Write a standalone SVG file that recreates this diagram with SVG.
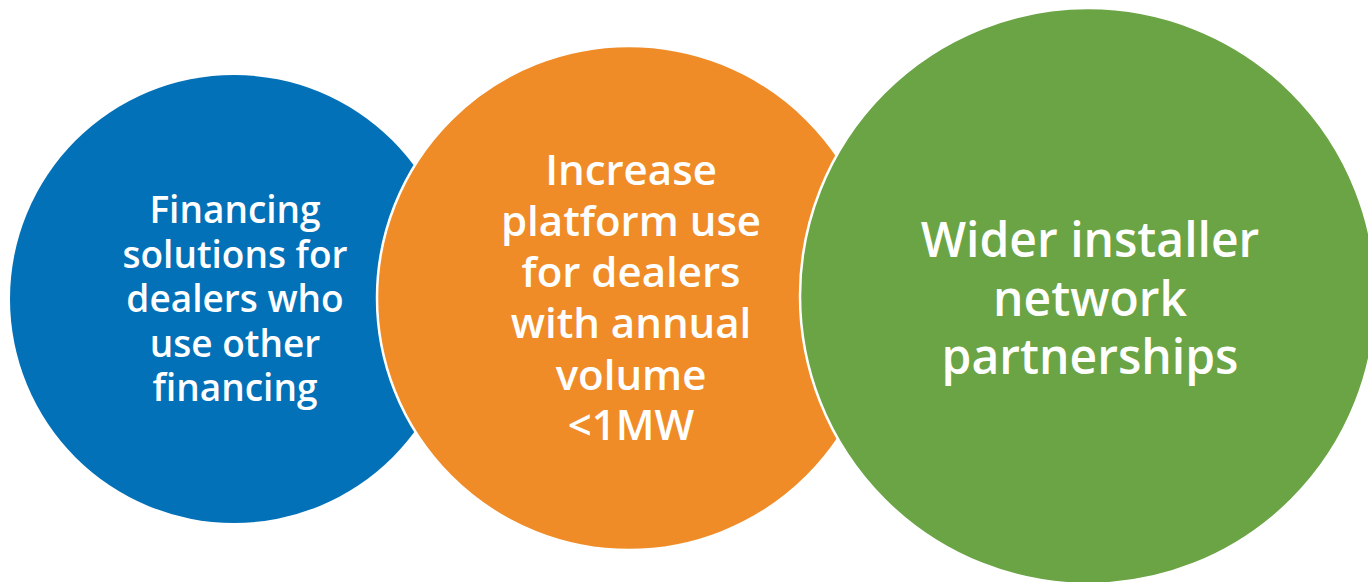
<svg xmlns="http://www.w3.org/2000/svg" width="1368" height="582" viewBox="0 0 1368 582">
<style>
.t{font-family:"Open Sans","Noto Sans","Liberation Sans",sans-serif;font-weight:600;fill:#FFFFFF;text-anchor:middle}
.c{stroke:#FFFFFF;stroke-width:2.5}
</style>
<rect width="1368" height="582" fill="#FFFFFF"/>
<g id="node-blue">
<circle cx="234" cy="299" r="224" fill="#0271B8"/>
<text class="t" font-size="37"><tspan x="235" y="223">Financing</tspan><tspan x="235" y="268">solutions for</tspan><tspan x="235" y="312">dealers who</tspan><tspan x="235" y="357">use other</tspan><tspan x="235" y="401">financing</tspan></text>
</g>
<g id="node-orange">
<circle class="c" cx="629" cy="298" r="252" fill="#EF8C27"/>
<text class="t" font-size="42"><tspan x="631" y="185">Increase</tspan><tspan x="631" y="236">platform use</tspan><tspan x="631" y="287">for dealers</tspan><tspan x="631" y="338">with annual</tspan><tspan x="631" y="390">volume</tspan><tspan x="631" y="440">&lt;1MW</tspan></text>
</g>
<g id="node-green">
<circle class="c" cx="1088" cy="296" r="288" fill="#6BA444"/>
<text class="t" font-size="48"><tspan x="1090" y="257">Wider installer</tspan><tspan x="1090" y="316">network</tspan><tspan x="1090" y="374">partnerships</tspan></text>
</g>
<g id="connectors"/>
</svg>
